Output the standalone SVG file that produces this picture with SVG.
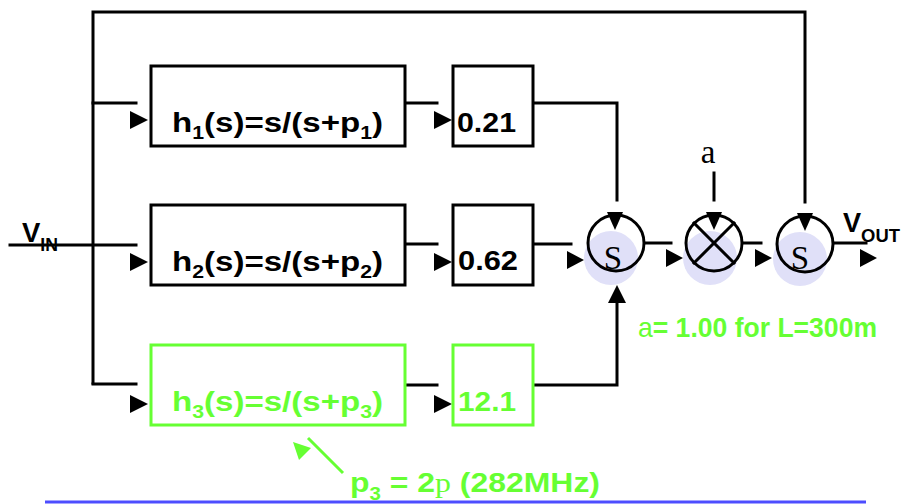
<svg xmlns="http://www.w3.org/2000/svg" width="904" height="504" viewBox="0 0 904 504">
<style>
.w{fill:none;stroke:#000;stroke-width:3;stroke-linecap:square}
.box{fill:#fff;stroke:#000;stroke-width:3}
.gbox{fill:#fff;stroke:#66ff33;stroke-width:3}
.ar{fill:#000}
.t{font-family:"Liberation Sans",Arial,sans-serif;font-weight:bold;font-size:28px;fill:#000}
.g{fill:#66ff33}
.sh{fill:#e0e0f8}
.ring{fill:none;stroke:#000;stroke-width:3}
.sig{font-family:"Liberation Serif","Times New Roman",serif;font-size:33px;fill:#000}
</style>
<rect width="904" height="504" fill="#fff"/>
<g id="connectors">
<polyline class="w" points="93,383 93,12 805,12 805,202"/>
<line class="w" x1="10" y1="245" x2="136" y2="245"/>
<line class="w" x1="93" y1="103" x2="136" y2="103"/>
<line class="w" x1="93" y1="384" x2="136" y2="384"/>
<line class="w" x1="406" y1="103" x2="437" y2="103"/>
<line class="w" x1="406" y1="244" x2="437" y2="244"/>
<line class="w" x1="406" y1="385" x2="437" y2="385"/>
<polyline class="w" points="534,103 617,103 617,200"/>
<line class="w" x1="534" y1="244" x2="571" y2="244"/>
<polyline class="w" points="534,385 617,385 617,303"/>
<line class="w" x1="714" y1="173" x2="714" y2="200"/>
<line class="w" x1="645" y1="243" x2="671" y2="243"/>
<line class="w" x1="743" y1="243" x2="761" y2="243"/>
<line class="w" x1="834" y1="243" x2="866" y2="243"/>
<polygon class="ar" points="130,111 148,120 130,129"/>
<polygon class="ar" points="130,253 148,262 130,271"/>
<polygon class="ar" points="130,395 148,404 130,413"/>
<polygon class="ar" points="434,111 452,120 434,129"/>
<polygon class="ar" points="434,253 452,262 434,271"/>
<polygon class="ar" points="434,395 452,404 434,413"/>
<polygon class="ar" points="617,285 626,303 608,303"/>
</g>
<g id="h1">
<rect class="box" x="151" y="66" width="254" height="80"/>
<text class="t" x="172" y="132" textLength="211" lengthAdjust="spacingAndGlyphs">h<tspan font-size="18" dy="7">1</tspan><tspan dy="-7">(s)=s/(s+p</tspan><tspan font-size="18" dy="7">1</tspan><tspan dy="-7">)</tspan></text>
</g>
<g id="h2">
<rect class="box" x="151" y="205" width="254" height="80"/>
<text class="t" x="172" y="271" textLength="211" lengthAdjust="spacingAndGlyphs">h<tspan font-size="18" dy="7">2</tspan><tspan dy="-7">(s)=s/(s+p</tspan><tspan font-size="18" dy="7">2</tspan><tspan dy="-7">)</tspan></text>
</g>
<g id="h3">
<rect class="gbox" x="151" y="345" width="254" height="80"/>
<text class="t g" x="172" y="411" textLength="211" lengthAdjust="spacingAndGlyphs">h<tspan font-size="18" dy="7">3</tspan><tspan dy="-7">(s)=s/(s+p</tspan><tspan font-size="18" dy="7">3</tspan><tspan dy="-7">)</tspan></text>
</g>
<g id="g1">
<rect class="box" x="453" y="66" width="80" height="80"/>
<text class="t" x="457" y="132" textLength="59" lengthAdjust="spacingAndGlyphs">0.21</text>
</g>
<g id="g2">
<rect class="box" x="453" y="205" width="80" height="80"/>
<text class="t" x="458" y="270" textLength="60" lengthAdjust="spacingAndGlyphs">0.62</text>
</g>
<g id="g3">
<rect class="gbox" x="453" y="345" width="80" height="80"/>
<text class="t g" x="458" y="411" textLength="58" lengthAdjust="spacingAndGlyphs">12.1</text>
</g>
<g id="sum1">
<circle class="sh" cx="611" cy="258" r="27"/>
<circle class="ring" cx="616" cy="243" r="28"/>
<text class="sig" x="613" y="269" text-anchor="middle">S</text>
<polygon class="ar" points="607,212 623,212 615,230"/>
<polygon class="ar" points="567,251 584,260 567,269"/>
</g>
<g id="mult">
<circle class="sh" cx="710" cy="258" r="27"/>
<circle class="ring" cx="714" cy="243" r="28"/>
<line class="w" x1="694" y1="223" x2="734" y2="263" stroke-linecap="butt"/>
<line class="w" x1="734" y1="223" x2="694" y2="263" stroke-linecap="butt"/>
<polygon class="ar" points="706,212 722,212 714,230"/>
<polygon class="ar" points="666,249 683,258 666,267"/>
<text class="sig" x="708" y="163" font-size="32" text-anchor="middle">a</text>
</g>
<g id="sum2">
<circle class="sh" cx="800" cy="259" r="27"/>
<circle class="ring" cx="805" cy="244" r="28"/>
<text class="sig" x="800" y="269" text-anchor="middle">S</text>
<polygon class="ar" points="797,213 813,213 805,231"/>
<polygon class="ar" points="755,249 772,258 755,267"/>
</g>
<g id="out">
<polygon class="ar" points="860,249 877,258 860,267"/>
<text class="t" x="843" y="232" font-size="22" textLength="57" lengthAdjust="spacingAndGlyphs">V<tspan font-size="19" dy="10">OUT</tspan></text>
</g>
<g id="vin">
<text class="t" x="22" y="242" font-size="23" textLength="36" lengthAdjust="spacingAndGlyphs">V<tspan font-size="18" dy="9">IN</tspan></text>
</g>
<g id="alpha-note">
<text class="t g" x="638" y="337" font-size="23" textLength="239" lengthAdjust="spacingAndGlyphs"><tspan font-weight="normal">a</tspan>= 1.00 for L=300m</text>
</g>
<g id="p3-note">
<line x1="308" y1="438" x2="343" y2="473" stroke="#66ff33" stroke-width="3"/>
<polygon points="293,442 311,448 299,460" fill="#66ff33"/>
<text class="t g" x="350" y="492" font-size="26" textLength="250" lengthAdjust="spacingAndGlyphs">p<tspan font-size="18" dy="8">3</tspan><tspan dy="-8"> = 2</tspan><tspan font-family="Liberation Serif,serif" font-weight="normal">p</tspan> (282MHz)</text>
</g>
<line x1="45" y1="502" x2="866" y2="502" stroke="#4d4dff" stroke-width="3"/>
</svg>
